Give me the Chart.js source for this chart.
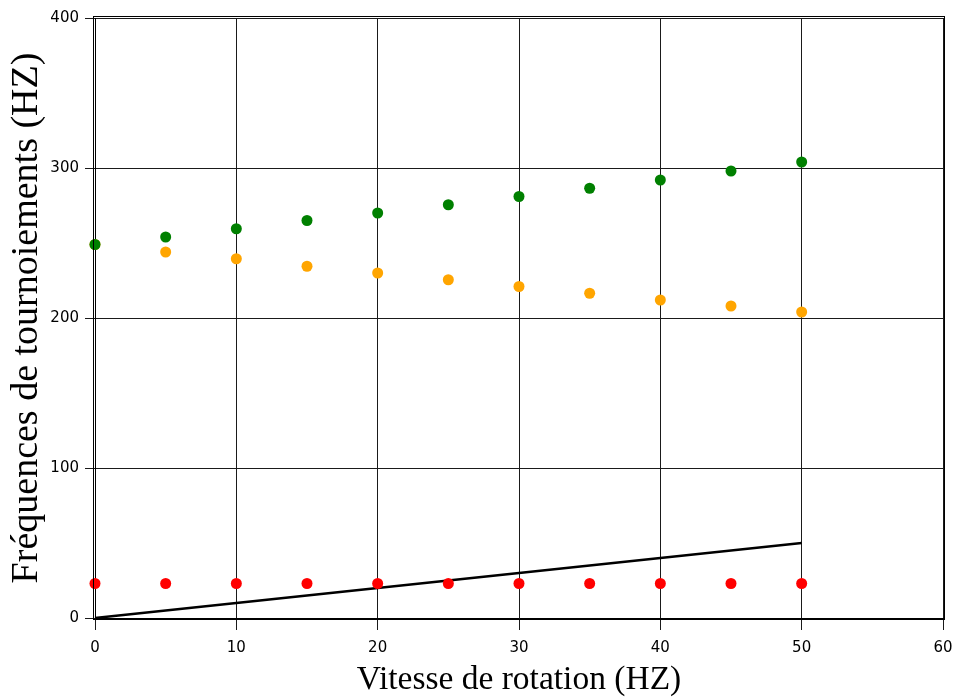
<!DOCTYPE html>
<html>
<head>
<meta charset="utf-8">
<script src="https://cdn.jsdelivr.net/npm/chart.js@4/dist/chart.umd.min.js"></script>
<style>
  html, body { margin: 0; padding: 0; background: #fff; }
  #wrap { width: 957px; height: 697px; }
</style>
</head>
<body>
<div id="wrap"><canvas id="c" width="957" height="697"></canvas></div>
<script>
// Vitesse de rotation (Hz)
const vitesse = [0, 5, 10, 15, 20, 25, 30, 35, 40, 45, 50];
// Fréquence directe (mode avant)
const freqAvant = [249, 254, 259.5, 265, 270, 275.5, 281, 286.5, 292, 298, 304];
// Fréquence rétrograde (mode arrière)
const freqArriere = [249, 244, 239.5, 234.5, 230, 225.5, 221, 216.5, 212, 208, 204];
// Mode constant
const freqConstante = [23, 23, 23, 23, 23, 23, 23, 23, 23, 23, 23];
// Droite d'excitation synchrone f = Ω
const droiteX = [0, 50];
const droiteY = [0, 50];

const xTicks = [0, 10, 20, 30, 40, 50, 60];
const yTicks = [0, 100, 200, 300, 400];

const xTitle = 'Vitesse de rotation (HZ)';
const yTitle = 'Fréquences de tournoiements (HZ)';

const pts = (xs, ys) => xs.map((x, i) => ({ x: x, y: ys[i] }));

// Double frame around the plot area and axis titles
const framePlugin = {
  id: 'frame',
  afterDraw(chart) {
    const { ctx, chartArea: a } = chart;
    ctx.save();
    ctx.strokeStyle = '#000';
    ctx.lineWidth = 1;
    ctx.strokeRect(a.left - 1.5, a.top - 1.5, a.right - a.left + 3, a.bottom - a.top + 3);
    ctx.fillStyle = '#000';
    ctx.textAlign = 'center';
    ctx.textBaseline = 'alphabetic';
    ctx.font = '33.5px "Liberation Serif", "Times New Roman", serif';
    ctx.fillText(xTitle, (a.left + a.right) / 2, 689);
    ctx.font = '38px "Liberation Serif", "Times New Roman", serif';
    ctx.translate(37, (a.top + a.bottom) / 2);
    ctx.rotate(-Math.PI / 2);
    ctx.fillText(yTitle, 0, 0);
    ctx.restore();
  }
};

const tickFont = { family: '"DejaVu Sans", Verdana, sans-serif', size: 15 };

new Chart(document.getElementById('c'), {
  type: 'scatter',
  data: {
    datasets: [
      {
        label: 'droite',
        data: pts(droiteX, droiteY),
        showLine: true,
        borderColor: '#000',
        borderWidth: 2.5,
        pointRadius: 0,
        clip: false,
        order: 4
      },
      {
        label: 'constante',
        data: pts(vitesse, freqConstante),
        backgroundColor: '#ff0000',
        borderWidth: 0,
        pointRadius: 5.5,
        clip: false,
        order: 3
      },
      {
        label: 'arrière',
        data: pts(vitesse, freqArriere),
        backgroundColor: '#ffa500',
        borderWidth: 0,
        pointRadius: 5.5,
        clip: false,
        order: 2
      },
      {
        label: 'avant',
        data: pts(vitesse, freqAvant),
        backgroundColor: '#008000',
        borderWidth: 0,
        pointRadius: 5.5,
        clip: false,
        order: 1
      }
    ]
  },
  options: {
    responsive: false,
    animation: false,
    layout: { padding: { top: 18, right: 14, left: 0, bottom: 0 } },
    plugins: {
      legend: { display: false },
      tooltip: { enabled: false }
    },
    scales: {
      x: {
        type: 'linear',
        min: 0,
        max: 60,
        afterBuildTicks(scale) { scale.ticks = xTicks.map(v => ({ value: v })); },
        afterFit(scale) {
          scale.height = 79;
          scale.paddingLeft = 0;
          scale.paddingRight = 0;
        },
        grid: { color: '#1a1a1a', lineWidth: 1, tickLength: 12 },
        border: { display: true, color: '#000', width: 1 },
        ticks: { color: '#000', padding: 9, font: tickFont }
      },
      y: {
        type: 'linear',
        min: 0,
        max: 400,
        afterBuildTicks(scale) { scale.ticks = yTicks.map(v => ({ value: v })); },
        afterFit(scale) {
          scale.width = 95;
          scale.paddingTop = 0;
          scale.paddingBottom = 0;
        },
        grid: { color: '#1a1a1a', lineWidth: 1, tickLength: 10 },
        border: { display: true, color: '#000', width: 1 },
        ticks: { color: '#000', padding: 6, font: tickFont }
      }
    }
  },
  plugins: [framePlugin]
});
</script>
</body>
</html>
